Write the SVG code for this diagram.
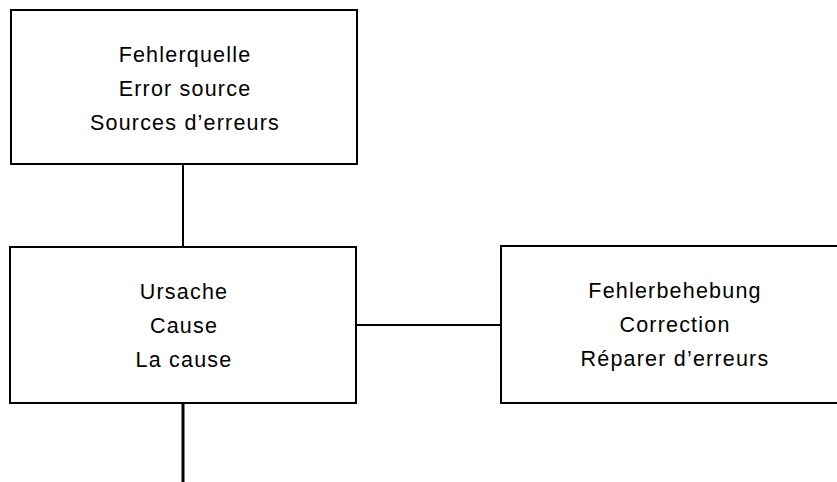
<svg xmlns="http://www.w3.org/2000/svg" width="837" height="482" viewBox="0 0 837 482">
  <style>
    .box { fill: #ffffff; stroke: #000000; stroke-width: 2; }
    .link { stroke: #000000; stroke-width: 2; fill: none; }
    .label { font-family: "Liberation Sans", Arial, Helvetica, sans-serif; font-size: 21.5px; letter-spacing: 1.2px; fill: #000000; text-anchor: middle; }
  </style>
  <rect width="837" height="482" fill="#ffffff"/>

  <g id="connectors">
    <line class="link" x1="183" y1="164" x2="183" y2="247"/>
    <line class="link" x1="356" y1="325" x2="501" y2="325"/>
    <line class="link" x1="183" y1="403" x2="183" y2="482" style="stroke-width:3"/>
  </g>

  <g id="node-error-source">
    <rect class="box" x="11" y="10" width="346" height="154"/>
    <text class="label" x="185" y="62">Fehlerquelle</text>
    <text class="label" x="185" y="96">Error source</text>
    <text class="label" x="185" y="130">Sources d’erreurs</text>
  </g>

  <g id="node-cause">
    <rect class="box" x="10" y="247" width="346" height="156"/>
    <text class="label" x="184" y="299">Ursache</text>
    <text class="label" x="184" y="333">Cause</text>
    <text class="label" x="184" y="367">La cause</text>
  </g>

  <g id="node-correction">
    <rect class="box" x="501" y="246" width="346" height="157"/>
    <text class="label" x="675" y="298">Fehlerbehebung</text>
    <text class="label" x="675" y="332">Correction</text>
    <text class="label" x="675" y="366">Réparer d’erreurs</text>
  </g>
</svg>
